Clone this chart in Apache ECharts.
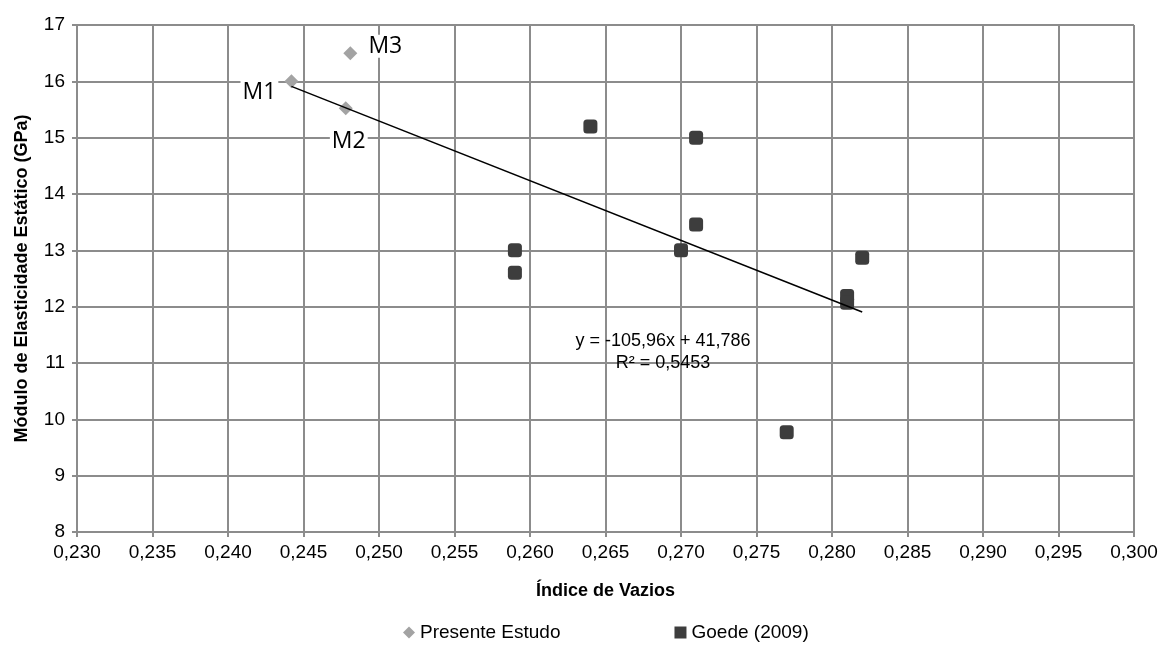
<!DOCTYPE html>
<html>
<head>
<meta charset="utf-8">
<script src="https://cdn.jsdelivr.net/npm/echarts@6/dist/echarts.min.js"></script>
<style>
  html, body { margin: 0; padding: 0; background: #ffffff; }
  #chart { width: 1162px; height: 648px; }
</style>
</head>
<body>
<div id="chart"></div>
<script>
// Present study samples: [void ratio, static modulus (GPa)]
const presenteNames = ['M1', 'M2', 'M3'];
const presenteX = [0.2442, 0.2478, 0.2481];
const presenteY = [16.0, 15.52, 16.5];

// Goede (2009) samples
const goedeX = [0.264, 0.271, 0.271, 0.270, 0.259, 0.259, 0.282, 0.281, 0.281, 0.277];
const goedeY = [15.2, 15.0, 13.46, 13.0, 13.0, 12.6, 12.87, 12.19, 12.07, 9.77];

// Linear trend line y = a*x + b
const trendSlope = -105.96;
const trendIntercept = 41.786;
const trendText = ['y = -105,96x + 41,786', 'R² = 0,5453'];

// Label offsets for the sample names (pixels)
const nameOffsets = { M1: [-32, 11], M2: [3, 33], M3: [35, -7] };

const allX = presenteX.concat(goedeX);
const xStart = Math.min(...allX);
const xEnd = Math.max(...allX);
const trendData = [
  [xStart, trendSlope * xStart + trendIntercept],
  [xEnd, trendSlope * xEnd + trendIntercept]
];

const font = 'Liberation Sans, Arial, sans-serif';
const gridColor = '#8c8c8c';

const chart = echarts.init(document.getElementById('chart'), null, { renderer: 'canvas' });

chart.setOption({
  animation: false,
  backgroundColor: '#ffffff',
  grid: { left: 77, right: 28, top: 25, bottom: 116, containLabel: false },
  legend: {
    bottom: 1,
    left: 398,
    itemWidth: 12,
    itemHeight: 12,
    itemGap: 114,
    textStyle: { fontFamily: font, fontSize: 19, color: '#000' },
    data: [
      { name: 'Presente Estudo', icon: 'diamond' },
      { name: 'Goede (2009)', icon: 'rect' }
    ]
  },
  xAxis: {
    type: 'value',
    min: 0.23,
    max: 0.30,
    interval: 0.005,
    name: 'Índice de Vazios',
    nameLocation: 'middle',
    nameGap: 50,
    nameTextStyle: { fontFamily: font, fontSize: 18, fontWeight: 'bold', color: '#000' },
    axisLine: { show: true, onZero: false, lineStyle: { color: gridColor, width: 2 } },
    axisTick: { show: true, length: 5, lineStyle: { color: gridColor, width: 2 } },
    axisLabel: {
      fontFamily: font, fontSize: 19, color: '#000', margin: 11,
      formatter: v => v.toFixed(3).replace('.', ',')
    },
    splitLine: { show: true, lineStyle: { color: gridColor, width: 2 } }
  },
  yAxis: {
    type: 'value',
    min: 8,
    max: 17,
    interval: 1,
    name: 'Módulo de Elasticidade Estático (GPa)',
    nameLocation: 'middle',
    nameGap: 46,
    nameTextStyle: { fontFamily: font, fontSize: 18, fontWeight: 'bold', color: '#000' },
    axisLine: { show: true, onZero: false, lineStyle: { color: gridColor, width: 2 } },
    axisTick: { show: true, length: 5, lineStyle: { color: gridColor, width: 2 } },
    axisLabel: { fontFamily: font, fontSize: 19, color: '#000', margin: 12 },
    splitLine: { show: true, lineStyle: { color: gridColor, width: 2 } }
  },
  series: [
    {
      name: 'Goede (2009)',
      type: 'scatter',
      symbol: 'roundRect',
      symbolSize: 14,
      itemStyle: { color: '#3d3d3d', opacity: 1 },
      data: goedeX.map((x, i) => [x, goedeY[i]]),
      z: 3
    },
    {
      name: 'Presente Estudo',
      type: 'scatter',
      symbol: 'diamond',
      symbolSize: 14,
      itemStyle: { color: '#a3a3a3', opacity: 1 },
      data: presenteX.map((x, i) => ({
        value: [x, presenteY[i]],
        name: presenteNames[i],
        label: {
          show: true,
          position: 'inside',
          offset: nameOffsets[presenteNames[i]],
          formatter: presenteNames[i],
          fontFamily: 'Open Sans, sans-serif',
          fontSize: 23,
          color: '#000',
          backgroundColor: '#ffffff',
          padding: [0, 2]
        }
      })),
      z: 4
    },
    {
      name: 'trend',
      type: 'line',
      data: trendData,
      symbol: 'none',
      lineStyle: { color: '#000000', width: 1.6 },
      z: 5,
      silent: true
    }
  ],
  graphic: [
    {
      type: 'text',
      x: 663,
      y: 330,
      z: 10,
      style: {
        text: trendText.join('\n'),
        font: '18px ' + font,
        fill: '#000',
        align: 'center',
        verticalAlign: 'top',
        lineHeight: 22
      }
    }
  ]
});
</script>
</body>
</html>
